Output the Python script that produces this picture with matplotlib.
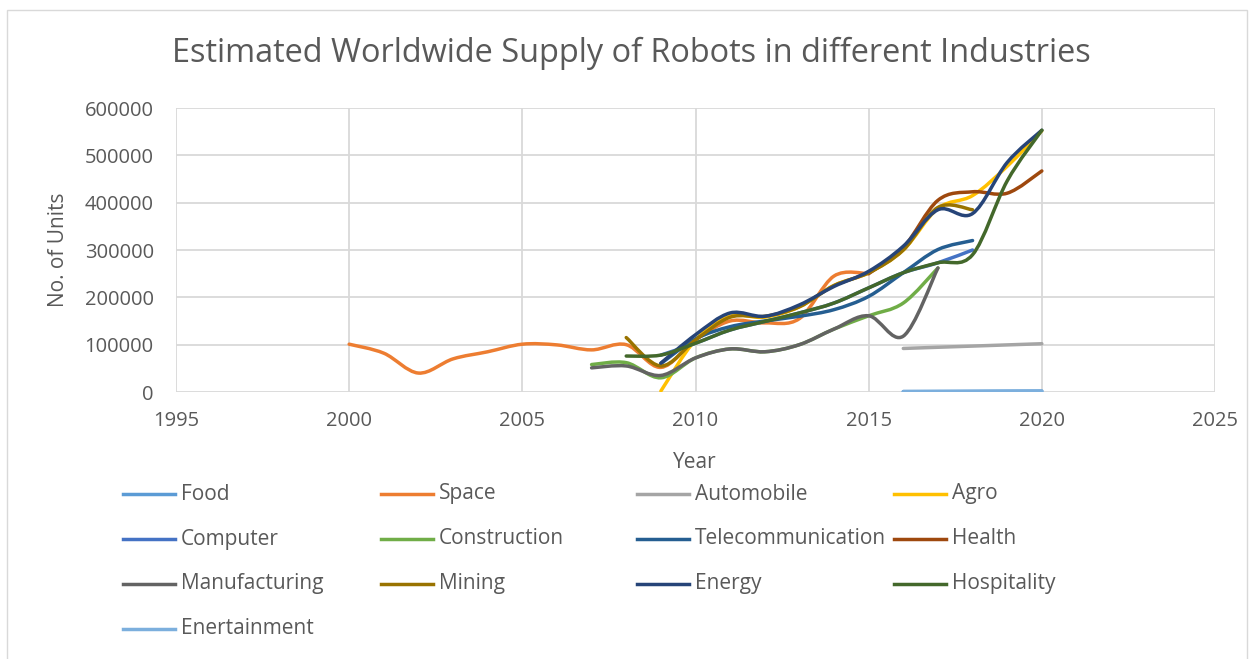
import numpy as np
import matplotlib
matplotlib.use("Agg")
import matplotlib.pyplot as plt
from matplotlib.path import Path
from matplotlib.patches import PathPatch, Rectangle
from matplotlib.lines import Line2D

plt.rcParams['font.family'] = ['Open Sans', 'DejaVu Sans']

# data (year -> units)
food_years = [2016, 2017, 2018, 2019, 2020]
food = [1000, 1200, 1500, 1800, 2000]

space_years = list(range(2000, 2016))
space = [101000, 82000, 40000, 70000, 85000, 101000, 99500, 89000, 100000,
         52000, 110000, 150000, 146000, 155000, 245000, 250000]

auto_years = [2016, 2017, 2018, 2019, 2020]
automobile = [92000, 94500, 97000, 99500, 102000]

agro_years = list(range(2009, 2021))
agro = [2000, 110000, 160000, 158000, 180000, 225000, 252000, 300000,
        388000, 415000, 477000, 552000]

computer_years = list(range(2009, 2019))
computer = [78000, 103000, 131000, 149000, 167000, 188000, 220000, 252000,
            273000, 300000]

constr_years = list(range(2007, 2018))
construction = [58000, 62000, 30000, 72000, 91000, 85000, 100000, 133000,
                161000, 188000, 262000]

telecom_years = list(range(2009, 2019))
telecom = [60000, 112000, 138000, 150000, 160000, 174000, 202000, 252000,
           301000, 320000]

health_years = list(range(2015, 2021))
health = [250000, 305000, 405000, 423000, 420000, 467000]

manuf_years = list(range(2007, 2018))
manufacturing = [51000, 55000, 35000, 72000, 91000, 85000, 100000, 133000,
                 161000, 118000, 262000]

mining_years = list(range(2008, 2019))
mining = [115000, 55000, 110000, 158000, 160000, 180000, 225000, 252000,
          300000, 390000, 385000]

energy_years = list(range(2009, 2021))
energy = [61000, 121000, 167000, 160000, 184000, 223000, 255000, 308000,
          385000, 377000, 485000, 553000]

hosp_years = list(range(2008, 2021))
hospitality = [76000, 78000, 103000, 131000, 149000, 167000, 188000, 220000,
               252000, 273000, 290000, 446000, 553000]

ent_years = [2016, 2017, 2018, 2019, 2020]
entertainment = [800, 1000, 1200, 1500, 1800]

series = [
    ("Food", food_years, food, "#5B9BD5"),
    ("Space", space_years, space, "#ED7D31"),
    ("Automobile", auto_years, automobile, "#A5A5A5"),
    ("Agro", agro_years, agro, "#FFC000"),
    ("Computer", computer_years, computer, "#4472C4"),
    ("Construction", constr_years, construction, "#70AD47"),
    ("Telecommunication", telecom_years, telecom, "#255E91"),
    ("Health", health_years, health, "#9E480E"),
    ("Manufacturing", manuf_years, manufacturing, "#636363"),
    ("Mining", mining_years, mining, "#997300"),
    ("Energy", energy_years, energy, "#264478"),
    ("Hospitality", hosp_years, hospitality, "#43682B"),
    ("Enertainment", ent_years, entertainment, "#7CAFDD"),
]


def smooth_path(xs, ys):
    # excel-like smoothed line: cubic bezier through the points
    p = np.column_stack([xs, ys]).astype(float)
    n = len(p)
    verts = [p[0]]
    codes = [Path.MOVETO]
    for i in range(n - 1):
        p0 = p[i - 1] if i > 0 else p[i]
        p3 = p[i + 2] if i + 2 < n else p[i + 1]
        c1 = p[i] + (p[i + 1] - p0) / 6.0
        c2 = p[i + 1] - (p3 - p[i]) / 6.0
        verts += [c1, c2, p[i + 1]]
        codes += [Path.CURVE4] * 3
    return Path(verts, codes)


W, H = 1252, 659
fig = plt.figure(figsize=(W / 100, H / 100), dpi=100)
ax = fig.add_axes([176 / W, 1 - 392 / H, (1215 - 176) / W, (392 - 108) / H])

for name, xs, ys, col in series:
    ax.add_patch(PathPatch(smooth_path(xs, ys), facecolor="none",
                           edgecolor=col, lw=2.5, capstyle="round",
                           joinstyle="round", zorder=3))

ax.set_xlim(1995, 2025)
ax.set_ylim(0, 600000)
ax.set_xticks(range(1995, 2026, 5))
ax.set_yticks(range(0, 600001, 100000))
ax.grid(True, color="#D9D9D9", lw=1.3)
ax.set_axisbelow(True)
for s in ax.spines.values():
    s.set_visible(False)
ax.tick_params(length=0, labelsize=14.5, labelcolor="#595959")
ax.tick_params(axis="y", pad=16)
ax.tick_params(axis="x", pad=14)

fig.text(631 / W, 1 - 53 / H, "Estimated Worldwide Supply of Robots in different Industries",
         ha="center", va="center", fontsize=23.4, color="#595959")
fig.text(695 / W, 1 - 463 / H, "Year", ha="center", va="center",
         fontsize=15, color="#595959")
fig.text(59 / W, 1 - 250 / H, "No. of Units", ha="center", va="center",
         rotation=90, fontsize=15, color="#595959")

# legend, laid out in a 4 column grid like the original
col_x = [123, 381, 637, 894]
row_y = [494, 539, 584, 629]
for i, (name, xs, ys, col) in enumerate(series):
    x0 = col_x[i % 4]
    y0 = row_y[i // 4]
    fig.add_artist(Line2D([x0 / W, (x0 + 52) / W], [1 - y0 / H, 1 - y0 / H],
                          transform=fig.transFigure, color=col, lw=2.5))
    fig.text((x0 + 58) / W, 1 - y0 / H, name, ha="left", va="center",
             fontsize=15, color="#595959")

fig.add_artist(Rectangle((7 / W, -0.05), (1247 - 7) / W, 1.05 - 10 / H,
                         transform=fig.transFigure, fill=False,
                         edgecolor="#D9D9D9", lw=1))

fig.savefig("out.png", dpi=100)
